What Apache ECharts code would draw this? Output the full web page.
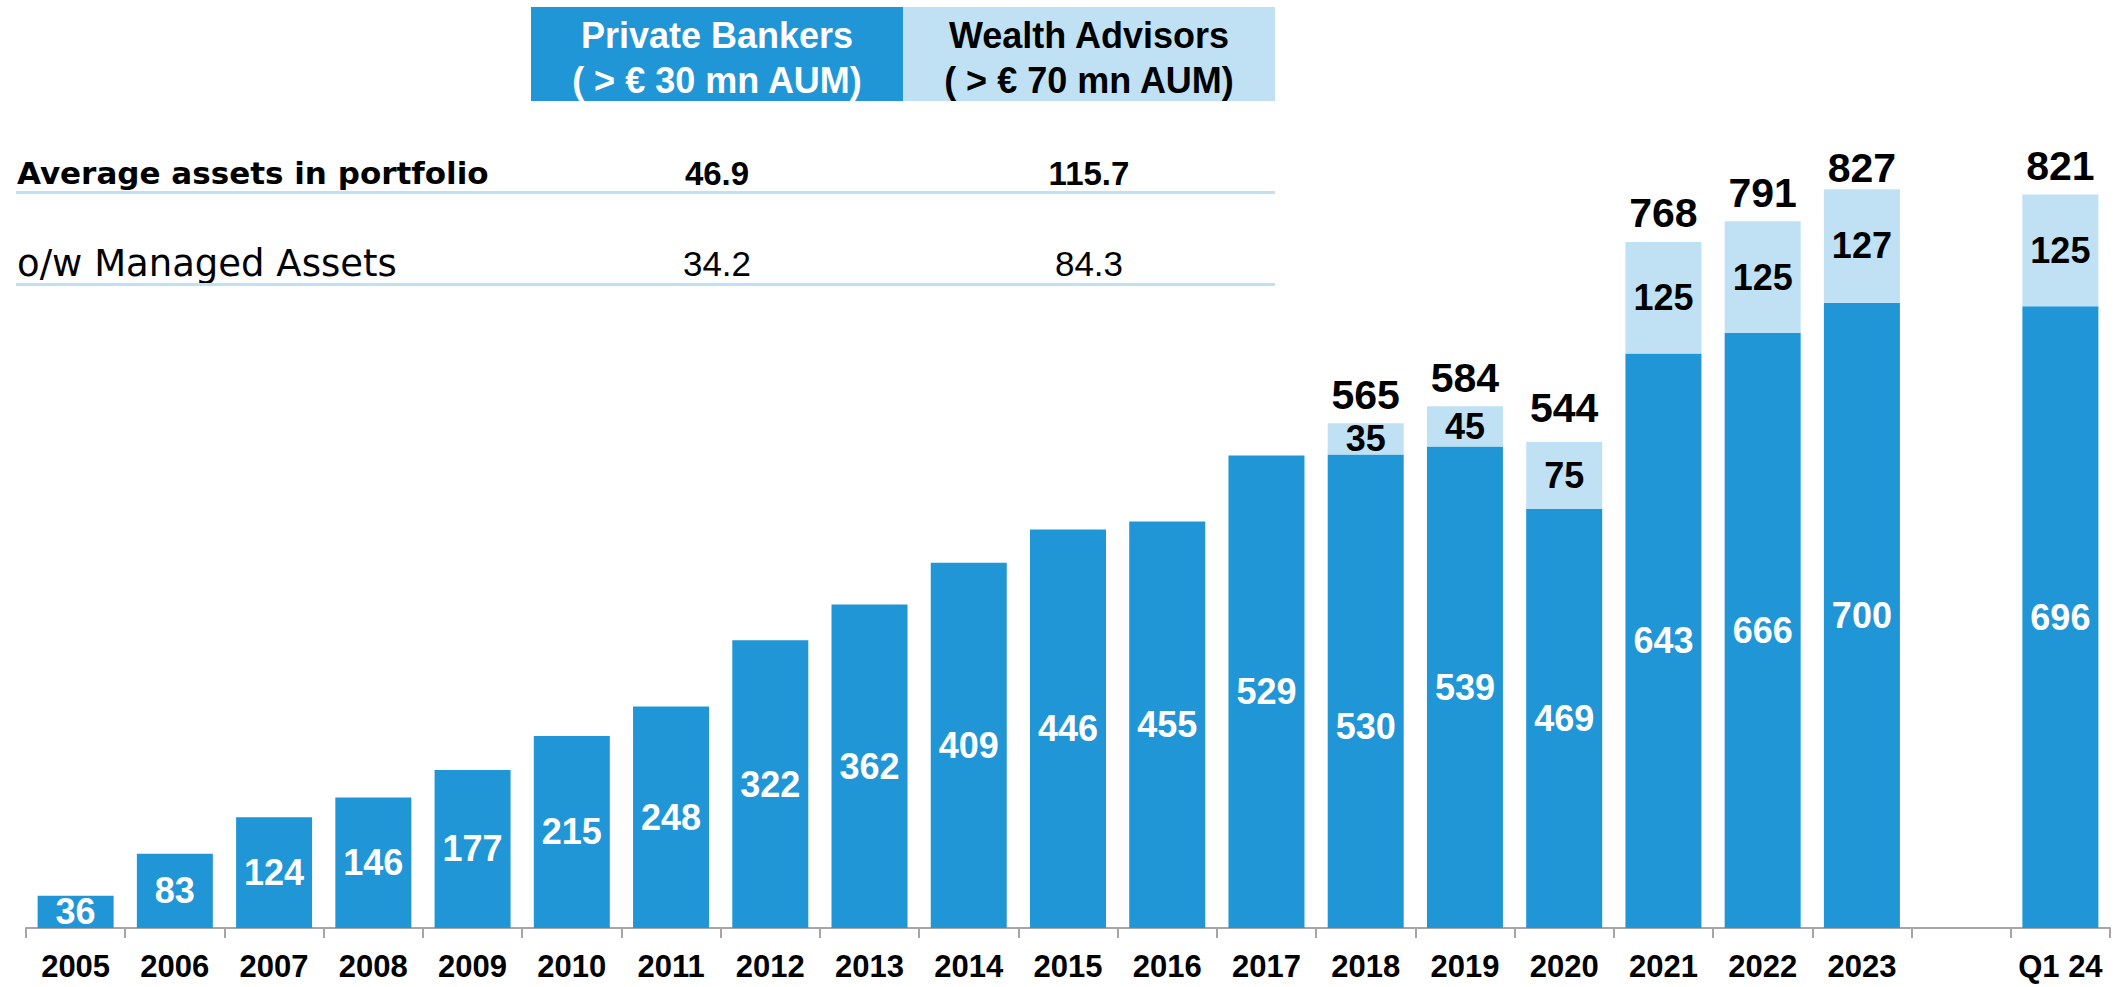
<!DOCTYPE html>
<html>
<head>
<meta charset="utf-8">
<style>
  html, body { margin: 0; padding: 0; background: #ffffff; }
  #chart { width: 2123px; height: 987px; }
</style>
<script src="https://cdn.jsdelivr.net/npm/echarts@6/dist/echarts.min.js"></script>
</head>
<body>
<div id="chart"></div>
<script>
// ---- data ----
const categories = ['2005','2006','2007','2008','2009','2010','2011','2012','2013','2014','2015','2016','2017','2018','2019','2020','2021','2022','2023','','Q1 24'];
const privateBankers = [36, 83, 124, 146, 177, 215, 248, 322, 362, 409, 446, 455, 529, 530, 539, 469, 643, 666, 700, null, 696];
const wealthAdvisors = [null, null, null, null, null, null, null, null, null, null, null, null, null, 35, 45, 75, 125, 125, 127, null, 125];
const totals = [null, null, null, null, null, null, null, null, null, null, null, null, null, 565, 584, 544, 768, 791, 827, null, 821];
const headerCols = ['Private Bankers\n( > € 30 mn AUM)', 'Wealth Advisors\n( > € 70 mn AUM)'];
const rowLabels = ['Average assets in portfolio', 'o/w Managed Assets'];
const rowPB = ['46.9', '34.2'];
const rowWA = ['115.7', '84.3'];

// ---- styles ----
const DARK = '#2196D7';
const LIGHT = '#C0E1F4';
const NUMFONT = '"Liberation Sans", Arial, sans-serif';
const TXTFONT = '"DejaVu Sans", "Liberation Sans", sans-serif';
const pbLabelOffset = { 13: [0, 35] };
const totalLabelOffset = { 15: [0, -6], 18: [0, 7] };

const pbData = privateBankers.map((v, i) => v == null ? '-' :
  (pbLabelOffset[i] ? { value: v, label: { offset: pbLabelOffset[i] } } : v));
const waData = wealthAdvisors.map(v => v == null ? '-' : v);
const totData = totals.map((v, i) => v == null ? '-' :
  (totalLabelOffset[i] ? { value: v, label: { offset: totalLabelOffset[i] } } : v));

const chart = echarts.init(document.getElementById('chart'), null, { renderer: 'svg' });

const graphics = [];
// header boxes
const colX = [531, 903];
const colW = 372;
const colFill = [DARK, LIGHT];
const colText = ['#ffffff', '#000000'];
headerCols.forEach((t, i) => {
  graphics.push({ type: 'rect', shape: { x: colX[i], y: 7, width: colW, height: 94 }, style: { fill: colFill[i] } });
  const lines = t.split('\n');
  lines.forEach((ln, j) => {
    graphics.push({ type: 'text', style: { x: colX[i] + colW / 2, y: j === 0 ? 35 : 80, text: ln, fill: colText[i],
      font: 'bold 36px ' + NUMFONT, textAlign: 'center', textVerticalAlign: 'middle' } });
  });
});
// table rows
const rowY = [173, 263];
const lineY = [191, 283];
rowLabels.forEach((t, i) => {
  const bold = i === 0;
  graphics.push({ type: 'text', style: { x: 17, y: rowY[i], text: t, fill: '#000',
    font: (bold ? 'bold 31px ' : '37px ') + TXTFONT, textAlign: 'left', textVerticalAlign: 'middle' } });
  graphics.push({ type: 'text', style: { x: 717, y: rowY[i], text: rowPB[i], fill: '#000',
    font: (bold ? 'bold 33px ' : '35px ') + NUMFONT, textAlign: 'center', textVerticalAlign: 'middle' } });
  graphics.push({ type: 'text', style: { x: 1089, y: rowY[i], text: rowWA[i], fill: '#000',
    font: (bold ? 'bold 33px ' : '35px ') + NUMFONT, textAlign: 'center', textVerticalAlign: 'middle' } });
  graphics.push({ type: 'rect', shape: { x: 16, y: lineY[i], width: 1259, height: 3 }, style: { fill: LIGHT } });
});

const option = {
  backgroundColor: '#ffffff',
  animation: false,
  grid: { left: 26, right: 13, top: 124, bottom: 59, containLabel: false },
  xAxis: {
    type: 'category',
    data: categories,
    axisLine: { show: true, lineStyle: { color: '#a6a6a6', width: 2 } },
    axisTick: { show: true, alignWithLabel: false, length: 10, lineStyle: { color: '#a6a6a6', width: 2 } },
    axisLabel: { interval: 0, margin: 23, color: '#000', fontFamily: NUMFONT, fontWeight: 'bold', fontSize: 31 }
  },
  yAxis: { type: 'value', min: 0, max: 900, show: false, splitLine: { show: false } },
  series: [
    {
      name: 'Private Bankers', type: 'bar', stack: 'a', data: pbData, barWidth: 76,
      itemStyle: { color: DARK },
      label: { show: true, position: 'inside', color: '#fff', fontFamily: NUMFONT, fontWeight: 'bold', fontSize: 36 }
    },
    {
      name: 'Wealth Advisors', type: 'bar', stack: 'a', data: waData, barWidth: 76,
      itemStyle: { color: LIGHT },
      label: { show: true, position: 'inside', color: '#000', fontFamily: NUMFONT, fontWeight: 'bold', fontSize: 36 }
    },
    {
      name: 'Total', type: 'bar', data: totData, barWidth: 76, barGap: '-100%', z: 1, silent: true,
      itemStyle: { color: 'rgba(0,0,0,0)' },
      label: { show: true, position: 'top', distance: 8, color: '#000', fontFamily: NUMFONT, fontWeight: 'bold', fontSize: 41 }
    }
  ],
  graphic: graphics
};
chart.setOption(option);
</script>
</body>
</html>
